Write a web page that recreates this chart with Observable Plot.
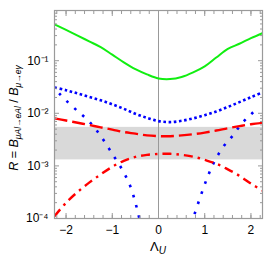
<!DOCTYPE html>
<html><head><meta charset="utf-8">
<script src="https://cdn.jsdelivr.net/npm/d3@7"></script>
<script src="https://cdn.jsdelivr.net/npm/@observablehq/plot@0.6"></script>
<style>body{margin:0;background:#fff}</style>
</head><body><div id="chart"></div>
<script>
const lambdaGrid = [-2.25,-2,-1.75,-1.5,-1.25,-1,-0.75,-0.5,-0.25,0,0.25,0.5,0.75,1,1.25,1.5,1.75,2,2.25];
const greenR = [0.49,0.385,0.30,0.233,0.181,0.13,0.093,0.069,0.055,0.046,0.0447,0.049,0.06,0.078,0.115,0.168,0.21,0.268,0.335];
const blueDenseR = [0.031,0.0275,0.0238,0.0205,0.0177,0.0148,0.0122,0.0098,0.0082,0.0071,0.0068,0.0072,0.0080,0.0092,0.0108,0.0132,0.0163,0.0202,0.025];
const redDashR = [0.0080,0.0073,0.0066,0.0060,0.0054,0.0049,0.0044,0.0041,0.0038,0.00368,0.00367,0.0038,0.0040,0.0043,0.0047,0.0052,0.0057,0.0062,0.0066];
const redDashDotR = [1.1e-4,2.0e-4,3.2e-4,4.8e-4,6.9e-4,9.6e-4,1.25e-3,1.48e-3,1.62e-3,1.69e-3,1.7e-3,1.62e-3,1.5e-3,1.3e-3,1.1e-3,8.6e-4,6.5e-4,4.6e-4,3.4e-4];
const blueSparseLeftL = [-2.15,-2,-1.75,-1.5,-1.25,-1,-0.75,-0.6,-0.5,-0.42,-0.35];
const blueSparseLeftR = [0.024,0.0175,0.011,0.0070,0.0037,0.0017,7.5e-4,3.9e-4,2.0e-4,1.05e-4,5e-5];
const blueSparseRightL = [0.65,0.75,0.9,1.05,1.2,1.4,1.6,1.8,2,2.15];
const blueSparseRightR = [5e-5,1.0e-4,2.5e-4,5.8e-4,1.17e-3,2.3e-3,3.7e-3,6.4e-3,9.5e-3,0.0128];
const band = [{lo: 1.3e-3, hi: 5.4e-3}];
const xMajor = [-2,-1,0,1,2];
const xMinor = d3.range(-22,23,2).map(v => v/10);
const yMajor = [1e-4,1e-3,1e-2,1e-1];
const yMinor = [];
for (const p of [1e-4,1e-3,1e-2,1e-1]) for (let k=2;k<=9;k++) if (k*p < 0.9) yMinor.push(k*p);
const yLabels = {"0.0001":"10⁻⁴","0.001":"10⁻³","0.01":"10⁻²","0.1":"10⁻¹"};
const yTitleParts = [["R", 12.5, true, 0], [" = ", 12.5, false, 0], ["B", 12.5, true, 0], ["μAl→eAl", 8.5, true, 3], [" / ", 12.5, false, 0], ["B", 12.5, true, 0], ["μ→eγ", 8.5, true, 3]];
const xTitleParts = [["Λ", 13, false, 0], ["U", 10, true, 3]];

const mk = (L, R) => L.map((x,i) => ({x, y: R[i]}));
const green = mk(lambdaGrid, greenR);
const blueDense = mk(lambdaGrid, blueDenseR);
const redDash = mk(lambdaGrid, redDashR);
const redDashDot = mk(lambdaGrid, redDashDotR);
const blueL = mk(blueSparseLeftL, blueSparseLeftR);
const blueR = mk(blueSparseRightL, blueSparseRightR);

const W = 274, H = 274, mL = 54, mR = 12, mT = 10, mB = 56;
const axisCol = "#9a9a9a";
const empty = () => "";
const lineOpts = {x: "x", y: "y", curve: "catmull-rom", clip: true, strokeLinecap: "butt", strokeLinejoin: "round"};
const chart = Plot.plot({
  width: W, height: H,
  marginLeft: mL, marginRight: mR, marginTop: mT, marginBottom: mB,
  style: {fontFamily: "'Liberation Sans', Arial, sans-serif", fontSize: "12px", background: "#fff"},
  x: {domain: [-2.25, 2.25]},
  y: {type: "log", domain: [1e-4, 0.9]},
  marks: [
    Plot.rectY(band, {y1: "lo", y2: "hi", fill: "#d9d9d9"}),
    Plot.ruleX([0], {stroke: "#999", strokeWidth: 1}),
    Plot.line(green, {...lineOpts, stroke: "#11ee11", strokeWidth: 2}),
    Plot.line(blueDense, {...lineOpts, stroke: "#0000ff", strokeWidth: 2.6, strokeDasharray: "2.6,2.6"}),
    Plot.line(blueL, {...lineOpts, stroke: "#0000ff", strokeWidth: 2.6, strokeDasharray: "2.6,8"}),
    Plot.line(blueR, {...lineOpts, stroke: "#0000ff", strokeWidth: 2.6, strokeDasharray: "2.6,8"}),
    Plot.line(redDash, {...lineOpts, stroke: "#ff0000", strokeWidth: 2.4, strokeDasharray: "13,5"}),
    Plot.line(redDashDot, {...lineOpts, stroke: "#ff0000", strokeWidth: 2.4, strokeDasharray: "9,5,2.5,5"}),
    Plot.frame({stroke: axisCol, strokeWidth: 1.2}),
    Plot.axisX({ticks: xMajor, anchor: "bottom", tickSize: 0, tickPadding: 7, label: null, fill: "#000",
      tickFormat: d => d < 0 ? "\u2212" + Math.abs(d) : String(d)}),
    Plot.axisX({ticks: xMajor, anchor: "bottom", tickSize: -5, tickFormat: empty, label: null, stroke: axisCol}),
    Plot.axisX({ticks: xMinor, anchor: "bottom", tickSize: -3, tickFormat: empty, label: null, stroke: axisCol}),
    Plot.axisX({ticks: xMajor, anchor: "top", tickSize: -5, tickFormat: empty, label: null, stroke: axisCol}),
    Plot.axisX({ticks: xMinor, anchor: "top", tickSize: -3, tickFormat: empty, label: null, stroke: axisCol}),
    Plot.axisY({ticks: yMajor, anchor: "left", tickSize: 0, tickPadding: 6, label: null, fill: "#000",
      tickFormat: d => yLabels[String(d)]}),
    Plot.axisY({ticks: yMajor, anchor: "left", tickSize: -5, tickFormat: empty, label: null, stroke: axisCol}),
    Plot.axisY({ticks: yMinor, anchor: "left", tickSize: -3, tickFormat: empty, label: null, stroke: axisCol}),
    Plot.axisY({ticks: yMajor, anchor: "right", tickSize: -5, tickFormat: empty, label: null, stroke: axisCol}),
    Plot.axisY({ticks: yMinor, anchor: "right", tickSize: -3, tickFormat: empty, label: null, stroke: axisCol})
  ]
});
document.getElementById("chart").appendChild(chart);
const svg = d3.select(chart);
const cx = (mL + W - mR) / 2, cy = (mT + H - mB) / 2;

function titleGroup(parts) {
  const g = svg.append("g").attr("font-family", "'Liberation Sans', Arial, sans-serif").attr("fill", "#000");
  let pos = 0;
  for (const [s, size, italic, shift] of parts) {
    const t = g.append("text").attr("text-anchor", "start").attr("font-size", size)
      .attr("font-style", italic ? "italic" : "normal").attr("x", pos).attr("y", shift)
      .attr("xml:space", "preserve").style("white-space", "pre").text(s);
    let w = t.node().getComputedTextLength();
    if (!w) w = s.length * size * 0.55;
    pos += w;
  }
  return {g, width: pos};
}
const xt = titleGroup(xTitleParts);
xt.g.attr("transform", `translate(${cx - xt.width / 2},${H - mB + 33})`);
const yt = titleGroup(yTitleParts);
yt.g.attr("transform", `translate(${mL - 36},${cy + 4 + yt.width / 2}) rotate(-90)`);
</script>
</body></html>
